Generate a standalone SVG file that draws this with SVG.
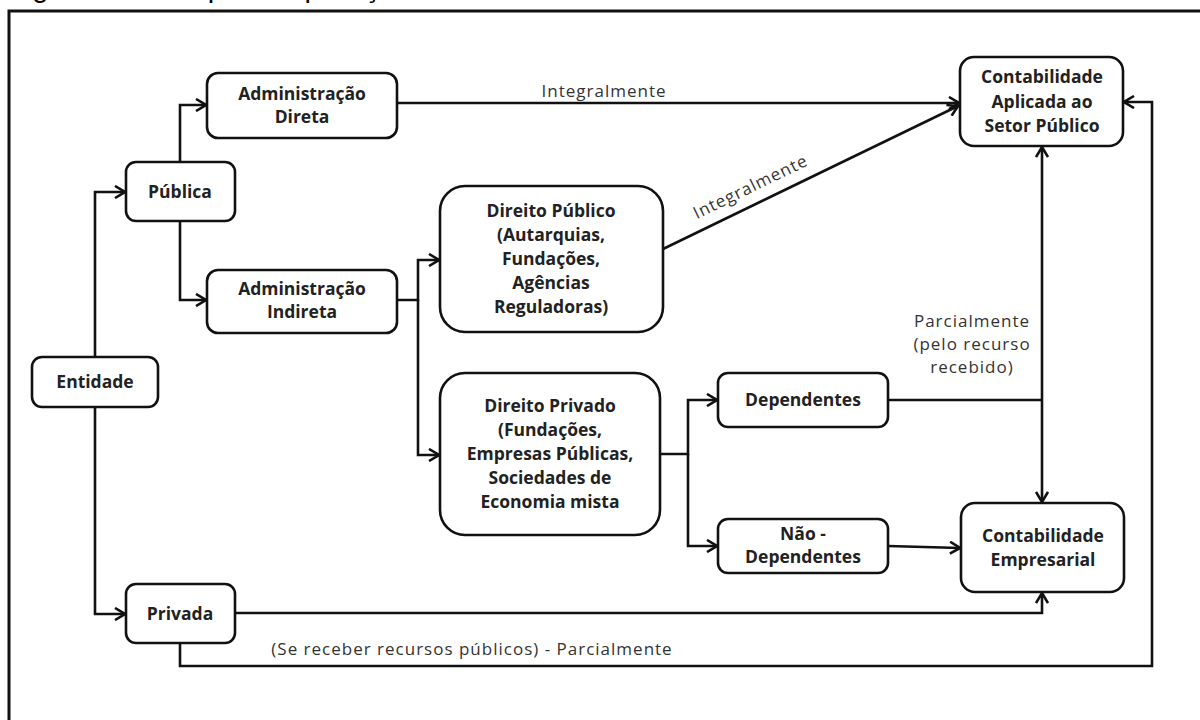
<svg xmlns="http://www.w3.org/2000/svg" width="1200" height="720" viewBox="0 0 1200 720">
<defs>
<marker id="arr" viewBox="0 0 12 14" refX="11" refY="7" markerWidth="12" markerHeight="14" markerUnits="userSpaceOnUse" orient="auto">
<path d="M1,1 L11,7 L1,13" fill="none" stroke="#111" stroke-width="2.6" stroke-linejoin="miter"/>
</marker>
</defs>
<style>
.box{fill:#fff;stroke:#111;stroke-width:2.6}
.lbl{font-family:"Open Sans","Liberation Sans",sans-serif;font-weight:bold;font-size:17.5px;fill:#222;text-anchor:middle}
.ed{font-family:"Open Sans","Liberation Sans",sans-serif;font-size:17px;fill:#333;text-anchor:middle;letter-spacing:1px}
.ln{fill:none;stroke:#111;stroke-width:2.6}
.ar{marker-end:url(#arr)}
</style>
<rect width="1200" height="720" fill="#fff"/>
<text x="8" y="-3" font-family="Liberation Sans, Arial, sans-serif" font-size="29" fill="#000">Figura 1 – Campo de aplicação</text>
<path d="M9,722 V11 H1202" fill="none" stroke="#111" stroke-width="3"/>

<g id="connectors">
<path class="ln ar" d="M95,382 V192 H125"/>
<path class="ln ar" d="M95,382 V614 H125"/>
<path class="ln ar" d="M180,162 V105 H206"/>
<path class="ln ar" d="M180,221 V300 H206"/>
<path class="ln ar" d="M397,103 H959"/>
<path class="ln ar" d="M397,300 H418 V260 H439"/>
<path class="ln ar" d="M418,300 V455 H439"/>
<path class="ln ar" d="M663,249 L958,106"/>
<path class="ln ar" d="M660,454 H688 V400 H717"/>
<path class="ln ar" d="M688,454 V546 H717"/>
<path class="ln" d="M888,400 H1042"/>
<path class="ln ar" d="M1042,400 V147"/>
<path class="ln ar" d="M1042,400 V502"/>
<path class="ln ar" d="M888,546 L960,548"/>
<path class="ln ar" d="M235,613 H1042 V593"/>
<path class="ln ar" d="M180,643 V666 H1152 V102 H1124"/>
<text class="ed" x="604" y="97">Integralmente</text>
<text class="ed" x="753" y="192" transform="rotate(-25.9 753 192)">Integralmente</text>
<text class="ed" x="972" y="327">Parcialmente</text>
<text class="ed" x="972" y="350">(pelo recurso</text>
<text class="ed" x="972" y="373">recebido)</text>
<text class="ed" x="472" y="655">(Se receber recursos públicos) - Parcialmente</text>
</g>

<g id="entidade"><rect class="box" x="32" y="357" width="126" height="50" rx="10"/><text class="lbl" x="95" y="388">Entidade</text></g>
<g id="publica"><rect class="box" x="126" y="162" width="109" height="59" rx="10"/><text class="lbl" x="180" y="198">Pública</text></g>
<g id="privada"><rect class="box" x="126" y="584" width="109" height="59" rx="10"/><text class="lbl" x="180" y="620">Privada</text></g>
<g id="adm-direta"><rect class="box" x="207" y="73" width="190" height="65" rx="11"/><text class="lbl" x="302" y="100">Administração</text><text class="lbl" x="302" y="123">Direta</text></g>
<g id="adm-indireta"><rect class="box" x="207" y="270" width="190" height="63" rx="11"/><text class="lbl" x="302" y="295">Administração</text><text class="lbl" x="302" y="318">Indireta</text></g>
<g id="direito-publico"><rect class="box" x="440" y="186" width="223" height="146" rx="25"/>
<text class="lbl" x="551" y="217">Direito Público</text><text class="lbl" x="551" y="241">(Autarquias,</text><text class="lbl" x="551" y="265">Fundações,</text><text class="lbl" x="551" y="289">Agências</text><text class="lbl" x="551" y="313">Reguladoras)</text></g>
<g id="direito-privado"><rect class="box" x="440" y="373" width="220" height="162" rx="25"/>
<text class="lbl" x="550" y="412">Direito Privado</text><text class="lbl" x="550" y="436">(Fundações,</text><text class="lbl" x="550" y="460">Empresas Públicas,</text><text class="lbl" x="550" y="484">Sociedades de</text><text class="lbl" x="550" y="508">Economia mista</text></g>
<g id="dependentes"><rect class="box" x="718" y="373" width="170" height="54" rx="10"/><text class="lbl" x="803" y="406">Dependentes</text></g>
<g id="nao-dependentes"><rect class="box" x="718" y="519" width="170" height="54" rx="10"/><text class="lbl" x="803" y="540">Não -</text><text class="lbl" x="803" y="563">Dependentes</text></g>
<g id="casp"><rect class="box" x="960" y="57" width="163" height="89" rx="14"/><text class="lbl" x="1042" y="83">Contabilidade</text><text class="lbl" x="1042" y="108">Aplicada ao</text><text class="lbl" x="1042" y="132">Setor Público</text></g>
<g id="empresarial"><rect class="box" x="961" y="503" width="163" height="89" rx="14"/><text class="lbl" x="1043" y="542">Contabilidade</text><text class="lbl" x="1043" y="566">Empresarial</text></g>
</svg>
